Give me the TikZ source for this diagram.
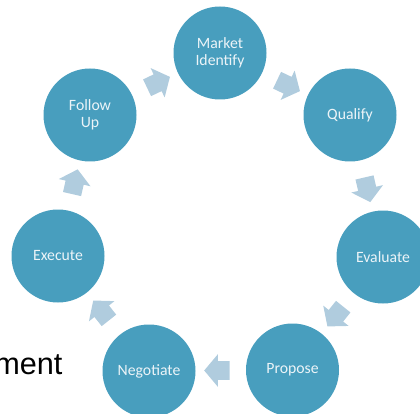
\documentclass[tikz,border=0pt]{standalone}
\usepackage{xcolor}
\usepackage{fontspec}
\usetikzlibrary{shapes.arrows,calc}
\newfontfamily\stepfont{Carlito}
\newfontfamily\bigfont{Liberation Sans}
\definecolor{stepblue}{RGB}{72,158,190}
\definecolor{arrowblue}{RGB}{176,204,222}
\definecolor{steptext}{RGB}{236,244,248}

\begin{document}
\begin{tikzpicture}[x=0.75pt,y=0.75pt,yscale=-1,xscale=1,
  stepnode/.style={circle,fill=stepblue,draw=none,minimum size=69.75pt,inner sep=0pt,
    text=steptext,align=center,font=\stepfont\fontsize{11.8}{12.5}\selectfont},
  blockarr/.style={single arrow,fill=arrowblue,draw=none,inner xsep=0pt,inner ysep=6.75pt,
    minimum height=19pt,single arrow head extend=5.25pt,
    single arrow tip angle=100}]
\path[use as bounding box] (0,0) rectangle (420,413);

%Shape: Circles
\node[stepnode] (mkt) at (220,53) {Market\\Identify};
\node[stepnode] (qual) at (350,115) {Qualify};
\node[stepnode] (eval) at (383,257) {Evaluate};
\node[stepnode] (prop) at (292.5,370) {Propose};
\node[stepnode] (neg) at (149,371) {Negotiate};
\node[stepnode] (exec) at (58,256) {Execute};
\node[stepnode] (fol) at (90,115) {Follow\\Up};

%Block Arrows
\node[blockarr,rotate=25.5] (a1) at ($(fol)!0.5!(mkt)$) {};
\node[blockarr,rotate=-25.5] (a2) at ($(mkt)!0.5!(qual)$) {};
\node[blockarr,rotate=-76.9] (a3) at ($(qual)!0.5!(eval)$) {};
\node[blockarr,rotate=-128.7] (a4) at ($(eval)!0.5!(prop)$) {};
\node[blockarr,rotate=180] (a5) at ($(prop)!0.5!(neg)$) {};
\node[blockarr,rotate=128.4] (a6) at ($(neg)!0.5!(exec)$) {};
\node[blockarr,rotate=77.2] (a7) at ($(exec)!0.5!(fol)$) {};

% Text Node
\node[anchor=base west,inner sep=0pt,font=\bigfont\fontsize{23}{26}\selectfont] (ment) at (-6,374) {ment};

\end{tikzpicture}
\end{document}
